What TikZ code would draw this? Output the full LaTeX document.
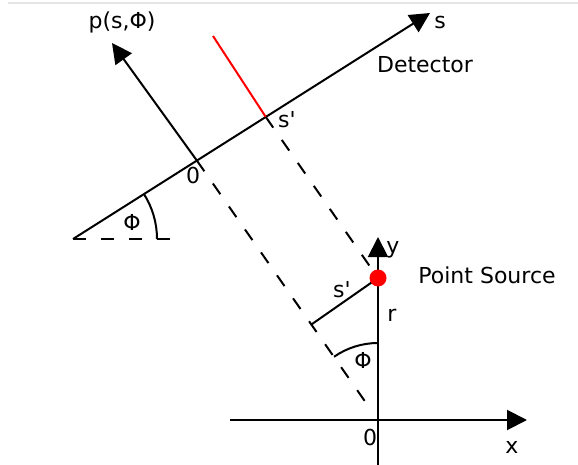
\documentclass[tikz,border=0pt]{standalone}
\usepackage{fontspec}
\setmainfont{DejaVu Sans}[Ligatures=TeXOff]
\usetikzlibrary{arrows.meta,calc}
\begin{document}
\begin{tikzpicture}[x=1pt,y=1pt,
  ln/.style={line width=2pt,line cap=butt},
  arr/.style={ln,-{Triangle[length=20pt,width=20pt]}},
  dsh/.style={ln,dash pattern=on 13pt off 15pt},
  lbl/.style={inner sep=0pt,font=\fontsize{22}{26}\selectfont}]
\useasboundingbox (0,0) rectangle (578,-465);
\draw[gray!20,line width=1.2pt] (8,-3) -- (578,-3);
% detector
\coordinate (A) at (73,-239);
\coordinate (S) at (430,-13);
\coordinate (O) at ($(A)!0.347!(S)$);
\coordinate (Sp) at ($(A)!0.54!(S)$);
\coordinate (Pt) at (112,-43);
\coordinate (R) at (213,-36);
\coordinate (H) at (172,-239);
% axes
\coordinate (Or) at (378,-420);
\coordinate (Xl) at (230,-420);
\coordinate (Xr) at (527,-420);
\coordinate (Yb) at (378,-465);
\coordinate (Yt) at (378,-237);
\coordinate (P) at (378,-278);
\coordinate (F) at ($(O)!(P)!(Or)$);
\coordinate (De) at ($(O)!0.95!(Or)$);

\draw[arr] (A) -- (S);
\draw[arr] (O) -- (Pt);
\draw[ln,red] (Sp) -- (R);
\draw[dsh] (A) -- (H);
\draw[ln] ($(A)+(84,0)$) arc[start angle=0,end angle=32.3,radius=84];
\draw[dsh] (O) -- (De);
\draw[dsh] (Sp) -- (P);
\draw[arr] (Xl) -- (Xr);
\draw[arr] (Yb) -- (Yt);
\draw[ln] (P) -- (F);
\draw[ln] ($(Or)+(0,77)$) arc[start angle=90,end angle=124.8,radius=77];
\fill[red] (P) circle[radius=8.5];

\node[lbl] (lp) at (122,-22) {p(s,Φ)};
\node[lbl] (ls) at (440,-22) {s};
\node[lbl] (ld) at (425,-65) {Detector};
\node[lbl] (lsp) at (287,-120) {s'};
\node[lbl] (lo) at (193,-175) {0};
\node[lbl] (lphi) at (132,-222) {Φ};
\node[lbl] (ly) at (393,-250) {y};
\node[lbl] (lps) at (487,-275) {Point Source};
\node[lbl] (lsp2) at (342,-290) {s'};
\node[lbl] (lr) at (392,-315) {r};
\node[lbl] (lphi2) at (363,-360) {Φ};
\node[lbl] (lo2) at (370,-437) {0};
\node[lbl] (lx) at (512,-447) {x};
\end{tikzpicture}
\end{document}
